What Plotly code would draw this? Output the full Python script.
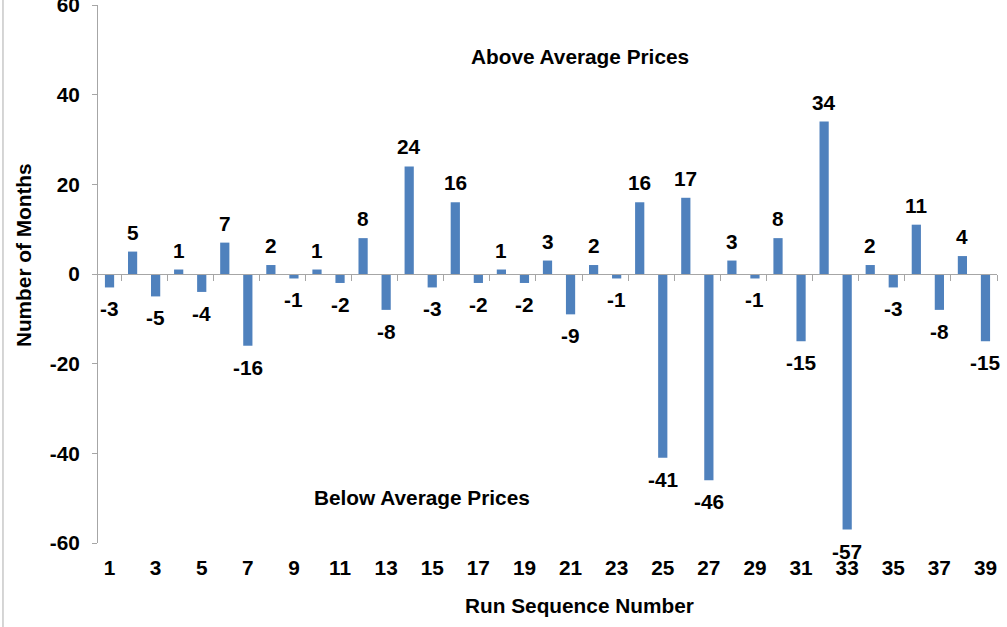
import plotly.graph_objects as go

runs = list(range(1, 40))
months = [-3, 5, -5, 1, -4, 7, -16, 2, -1, 1, -2, 8, -8, 24, -3, 16, -2, 1, -2, 3,
          -9, 2, -1, 16, -41, 17, -46, 3, -1, 8, -15, 34, -57, 2, -3, 11, -8, 4, -15]
x_tick_labels = [str(r) for r in runs if r % 2 == 1]
x_tick_vals = [r for r in runs if r % 2 == 1]
zero_tick_vals = [r + 0.5 for r in runs if r % 2 == 1]
y_ticks = [-60, -40, -20, 0, 20, 40, 60]
y_tick_labels = [str(v) for v in y_ticks]

FONT = "Liberation Sans, Arial, sans-serif"
AXIS_GREY = "#A6A6A6"
BAR_BLUE = "#4F81BD"
FS = 20.8

def bold(size=FS):
    return dict(family=FONT, size=size, color="black", weight="bold")

fig = go.Figure()
fig.add_trace(go.Bar(x=runs, y=months, marker=dict(color=BAR_BLUE, line=dict(width=0)),
                     width=0.4, xaxis="x", yaxis="y", showlegend=False, hoverinfo="x+y"))
# invisible trace to render the zero-line category axis
fig.add_trace(go.Scatter(x=runs, y=months, mode="markers", marker=dict(opacity=0),
                         xaxis="x2", yaxis="y", showlegend=False, hoverinfo="skip"))

annotations = []
for r, v in zip(runs, months):
    annotations.append(dict(
        x=r, y=v, xref="x", yref="y", text=str(v), showarrow=False,
        xanchor="center",
        yanchor="bottom" if v >= 0 else "top",
        yshift=6 if v >= 0 else -8,
        font=bold(),
    ))

annotations += [
    dict(x=0.536, y=0.905, xref="paper", yref="paper", text="Above Average Prices",
         xanchor="center", yanchor="middle", showarrow=False, font=bold()),
    dict(x=0.3605, y=0.0845, xref="paper", yref="paper", text="Below Average Prices",
         xanchor="center", yanchor="middle", showarrow=False, font=bold()),
    dict(x=0.536, y=-0.117, xref="paper", yref="paper", text="Run Sequence Number",
         xanchor="center", yanchor="middle", showarrow=False, font=bold()),
    dict(x=-0.0835, y=0.535, xref="paper", yref="paper", text="Number of Months",
         xanchor="center", yanchor="middle",
         textangle=-90, showarrow=False, font=bold()),
]

fig.update_layout(
    width=1007, height=627,
    margin=dict(l=98, r=10, t=5, b=84, autoexpand=False),
    paper_bgcolor="white", plot_bgcolor="white",
    font=bold(),
    xaxis=dict(range=[0.5, 39.5], tickmode="array", tickvals=x_tick_vals,
               ticktext=x_tick_labels, showline=False, ticks="", showgrid=False,
               zeroline=False, ticklabelstandoff=10, automargin=False,
               tickfont=bold()),
    xaxis2=dict(range=[0.5, 39.5], overlaying="x", anchor="free", position=0.5,
                tickmode="array", tickvals=zero_tick_vals, ticks="outside",
                ticklen=6, tickcolor=AXIS_GREY, tickwidth=1, showline=True,
                linecolor=AXIS_GREY, linewidth=1, showticklabels=False,
                showgrid=False, zeroline=False, automargin=False),
    yaxis=dict(range=[-60, 60], tickmode="array", tickvals=y_ticks,
               ticktext=y_tick_labels,
               showline=True, linecolor=AXIS_GREY, linewidth=1, ticks="outside",
               ticklen=5, tickcolor=AXIS_GREY, showgrid=False, zeroline=False,
               ticklabelstandoff=8, automargin=False, ticklabeloverflow="allow",
               tickfont=bold()),
    annotations=annotations,
    shapes=[dict(type="line", xref="paper", yref="paper", x0=-0.1057, x1=-0.1057,
                 y0=-0.16, y1=1.01, line=dict(color="#C8C8C8", width=1.5))],
)

fig.write_html("out.html", config={"displayModeBar": False},
               post_script="document.body.style.margin='0';document.body.style.overflow='hidden';")
